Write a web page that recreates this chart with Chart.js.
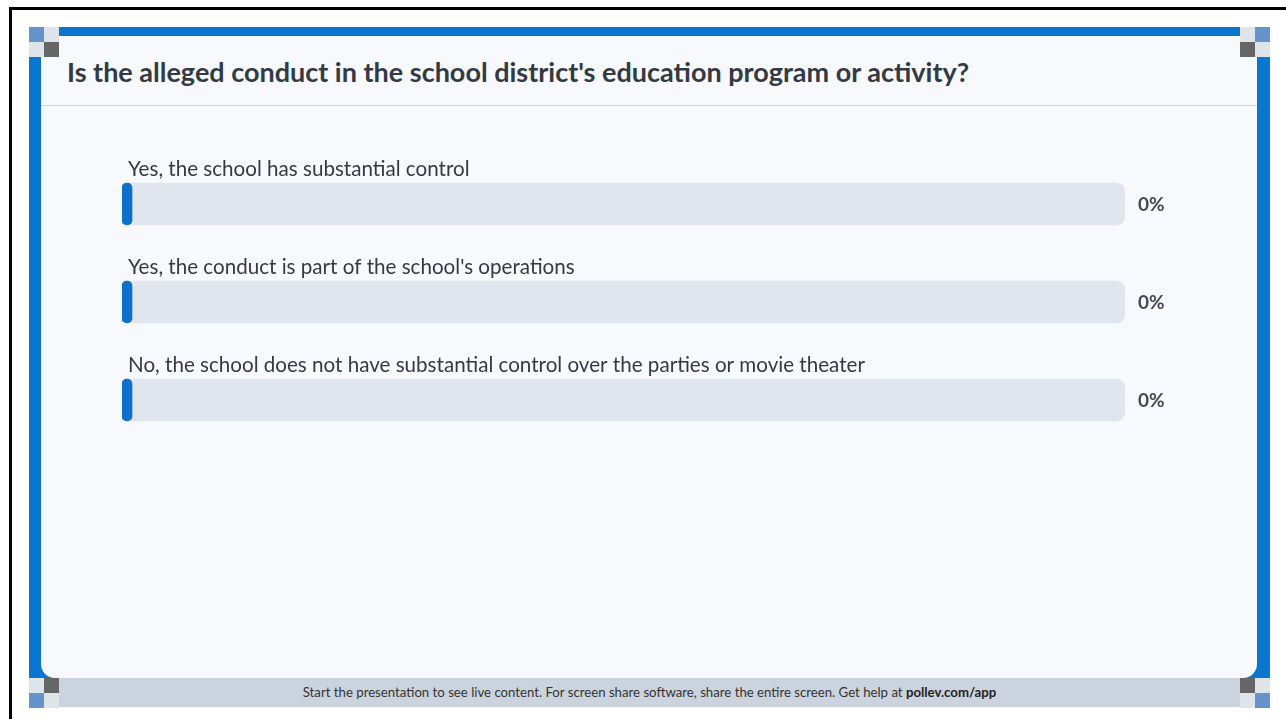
<!DOCTYPE html>
<html>
<head>
<meta charset="utf-8">
<script src="https://cdn.jsdelivr.net/npm/chart.js@4.4.1/dist/chart.umd.min.js"></script>
<style>
  html, body { margin: 0; padding: 0; background: #fff; }
  body { width: 1286px; height: 719px; position: relative; overflow: hidden; font-family: Lato, "Noto Sans", sans-serif; }
  .outer { position: absolute; left: 9px; top: 7px; width: 1400px; height: 800px; border-top: 3px solid #000; border-left: 3px solid #000; }
  .frame { position: absolute; left: 29px; top: 27px; width: 1241px; height: 651px; background: #0b76cf; }
  .panel { position: absolute; left: 41px; top: 36px; width: 1216px; height: 642px; background: #f7f9fc; border-radius: 14px; }
  .title { position: absolute; left: 67px; top: 55px; font-size: 27px; line-height: 34px; font-weight: 700; color: #343a44; white-space: nowrap; }
  .rule { position: absolute; left: 41px; top: 105px; width: 1216px; height: 1px; background: #cfd3d9; }
  .footer { position: absolute; left: 29px; top: 678px; width: 1241px; height: 29px; background: #cbd3de; text-align: center; line-height: 29px; font-size: 13.2px; color: #333; }
  .footer b { color: #222; }
  .sq { position: absolute; width: 15px; height: 15px; }
  .c1 { background: #6594cc; }
  .c2 { background: #dfe3ea; }
  .c3 { background: #666; }
  #wrap { position: absolute; left: 41px; top: 106px; width: 1216px; height: 572px; }
</style>
</head>
<body>
<div class="outer"></div>
<div class="frame"></div>
<div class="panel"></div>
<div class="title">Is the alleged conduct in the school district's education program or activity?</div>
<div class="rule"></div>
<div class="footer">Start the presentation to see live content. For screen share software, share the entire screen. Get help at <b>pollev.com/app</b></div>

<div class="sq c1" style="left:29px;top:27px"></div>
<div class="sq c2" style="left:44px;top:27px"></div>
<div class="sq c2" style="left:29px;top:42px"></div>
<div class="sq c3" style="left:44px;top:42px"></div>

<div class="sq c2" style="left:1240px;top:27px"></div>
<div class="sq c1" style="left:1255px;top:27px"></div>
<div class="sq c3" style="left:1240px;top:42px"></div>
<div class="sq c2" style="left:1255px;top:42px"></div>

<div class="sq c2" style="left:29px;top:678px"></div>
<div class="sq c3" style="left:44px;top:678px"></div>
<div class="sq c1" style="left:29px;top:693px"></div>
<div class="sq c2" style="left:44px;top:693px"></div>

<div class="sq c3" style="left:1240px;top:678px"></div>
<div class="sq c2" style="left:1255px;top:678px"></div>
<div class="sq c2" style="left:1240px;top:693px"></div>
<div class="sq c1" style="left:1255px;top:693px"></div>

<div id="wrap"><canvas id="myChart"></canvas></div>

<script>
const categories = [
    'Yes, the school has substantial control',
    "Yes, the conduct is part of the school's operations",
    'No, the school does not have substantial control over the parties or movie theater'
];
const percentages = [0, 0, 0];
const trackValues = [100, 100, 100];

// labels above each bar and percent text to the right
const pollLabels = {
    id: 'pollLabels',
    afterDatasetsDraw(chart) {
        const ctx = chart.ctx;
        const area = chart.chartArea;
        const yScale = chart.scales.y;
        ctx.save();
        categories.forEach((label, i) => {
            const y = yScale.getPixelForValue(i);
            ctx.textBaseline = 'middle';
            ctx.textAlign = 'left';
            ctx.fillStyle = '#353a42';
            ctx.font = '20.6px Lato, "Noto Sans", sans-serif';
            ctx.fillText(label, area.left + 6, y - 35);
            ctx.fillStyle = '#454a52';
            ctx.font = 'bold 19px Lato, "Noto Sans", sans-serif';
            ctx.fillText(percentages[i] + '%', area.right + 13, y + 1);
        });
        ctx.restore();
    }
};

new Chart(document.getElementById('myChart').getContext('2d'), {
    type: 'bar',
    data: {
        labels: categories,
        datasets: [{
            data: percentages,
            backgroundColor: '#0e70c8',
            borderRadius: 5,
            borderSkipped: false,
            minBarLength: 10,
            barThickness: 42,
            grouped: false,
            order: 1
        }, {
            data: trackValues,
            backgroundColor: '#e1e6ee',
            borderRadius: 9,
            borderSkipped: false,
            barThickness: 42,
            grouped: false,
            order: 2
        }]
    },
    options: {
        indexAxis: 'y',
        responsive: true,
        maintainAspectRatio: false,
        animation: false,
        layout: {
            padding: { left: 81, right: 132, top: 49, bottom: 229 }
        },
        plugins: {
            legend: { display: false },
            tooltip: { enabled: false }
        },
        scales: {
            x: { display: false, min: 0, max: 100 },
            y: { display: false }
        }
    },
    plugins: [pollLabels]
});
</script>
</body>
</html>
